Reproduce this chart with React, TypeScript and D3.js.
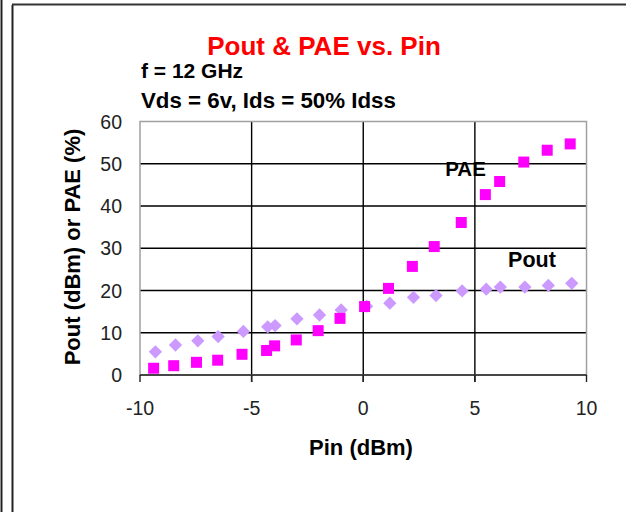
import React from "react";
import * as d3 from "d3";

const paeX = [-9.39, -8.49, -7.47, -6.52, -5.43, -4.33, -3.97, -3.0, -2.02, -1.04, 0.06, 1.13, 2.2, 3.18, 4.39, 5.47, 6.11, 7.19, 8.24, 9.27];
const paeY = [1.6, 2.2, 3.0, 3.5, 4.9, 5.8, 6.9, 8.3, 10.5, 13.4, 16.2, 20.5, 25.7, 30.4, 36.1, 42.7, 45.8, 50.4, 53.2, 54.7];
const poutX = [-9.31, -8.41, -7.41, -6.5, -5.37, -4.28, -3.95, -2.97, -1.96, -0.99, 0.15, 1.19, 2.25, 3.26, 4.43, 5.51, 6.14, 7.24, 8.29, 9.34];
const poutY = [5.5, 7.1, 8.1, 9.1, 10.3, 11.4, 11.7, 13.3, 14.2, 15.4, 16.3, 17.0, 18.4, 18.8, 19.9, 20.3, 20.8, 20.8, 21.2, 21.7];
const xTicks = [-10, -5, 0, 5, 10];
const yTicks = [0, 10, 20, 30, 40, 50, 60];

const FONT = "'Liberation Sans', Arial, sans-serif";

export default function App() {
  const x = d3.scaleLinear().domain([-10, 10]).range([140, 586.5]);
  const y = d3.scaleLinear().domain([0, 60]).range([375, 121.5]);
  const sq = d3.symbol().type(d3.symbolSquare).size(121)()!;
  const dm = d3.symbol().type(d3.symbolSquare).size(88)()!;
  const [x0, x1] = x.range();
  const [y0, y1] = y.range();
  return (
    <svg width={626} height={512} style={{ position: "absolute", left: 0, top: 0, background: "#fff" }} fontFamily={FONT}>
      {/* frame lines */}
      <line x1={1.5} y1={0} x2={1.5} y2={512} stroke="#222" strokeWidth={2} />
      <line x1={12.5} y1={5} x2={12.5} y2={512} stroke="#222" strokeWidth={2} />
      <line x1={12} y1={4.5} x2={626} y2={4.5} stroke="#333" strokeWidth={2} />

      {/* grid */}
      {yTicks.filter((t) => t > 0 && t < 60).map((t) => (
        <line key={"gy" + t} x1={x0} x2={x1} y1={y(t)} y2={y(t)} stroke="#000" strokeWidth={1.4} />
      ))}
      {xTicks.filter((t) => t > -10 && t < 10).map((t) => (
        <line key={"gx" + t} x1={x(t)} x2={x(t)} y1={y1} y2={y0 + 7} stroke="#000" strokeWidth={1.4} />
      ))}
      {/* plot border */}
      <rect x={x0} y={y1} width={x1 - x0} height={y0 - y1} fill="none" stroke="#a0a0a0" strokeWidth={1.5} />
      {/* x axis */}
      <line x1={x0} x2={x1} y1={y0} y2={y0} stroke="#222" strokeWidth={1.5} />
      {xTicks.map((t) => (
        <line key={"tx" + t} x1={x(t)} x2={x(t)} y1={y0} y2={y0 + 7} stroke="#222" strokeWidth={1.4} />
      ))}
      {xTicks.map((t) => (
        <text key={"lx" + t} x={x(t)} y={415} textAnchor="middle" fontSize={19.5} fill="#222">{t}</text>
      ))}
      {yTicks.map((t) => (
        <text key={"ly" + t} x={122} y={y(t) + 7} textAnchor="end" fontSize={19.5} fill="#222">{t}</text>
      ))}

      {/* series */}
      {poutX.map((v, i) => (
        <path key={"po" + i} d={dm} transform={`translate(${x(v)},${y(poutY[i])}) rotate(45)`} fill="#cc99ff" />
      ))}
      {paeX.map((v, i) => (
        <path key={"pa" + i} d={sq} transform={`translate(${x(v)},${y(paeY[i])})`} fill="#ff00ff" />
      ))}

      {/* labels */}
      <text x={465.5} y={176} textAnchor="middle" fontSize={20.5} fontWeight="bold" fill="#000">PAE</text>
      <text x={532} y={266.5} textAnchor="middle" fontSize={21.5} fontWeight="bold" fill="#000">Pout</text>

      {/* titles */}
      <text x={324} y={55} textAnchor="middle" fontSize={26} fontWeight="bold" fill="#ff0000">Pout &amp; PAE vs. Pin</text>
      <text x={141} y={78} fontSize={21} fontWeight="bold" fill="#000">f = 12 GHz</text>
      <text x={141} y={108} fontSize={22.3} fontWeight="bold" fill="#000">Vds = 6v, Ids = 50% Idss</text>
      <text x={361} y={455} textAnchor="middle" fontSize={22} fontWeight="bold" fill="#000">Pin (dBm)</text>
      <text transform="translate(80,247) rotate(-90)" textAnchor="middle" fontSize={22} fontWeight="bold" fill="#000">Pout (dBm) or PAE (%)</text>
    </svg>
  );
}
